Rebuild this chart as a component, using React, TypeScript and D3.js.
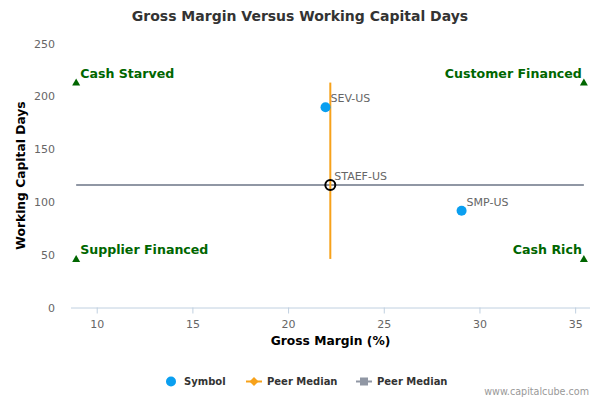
import { scaleLinear } from 'd3';

// scatter points (company symbols)
const symbols = ['SEV-US', 'SMP-US'];
const grossMargin = [21.93, 29.04];
const workingCapitalDays = [189.6, 91.7];

// the company itself, drawn at the peer median crossing
const peerSymbol = 'STAEF-US';
const peerGrossMargin = 22.18;
const peerDays = 116;

// peer median lines
const medianVX = [22.18, 22.18];
const medianVY = [46, 213];
const medianHX = [8.9, 35.43];
const medianHY = [116, 116];

// quadrant corner markers
const quadrantLabels = ['Cash Starved', 'Customer Financed', 'Supplier Financed', 'Cash Rich'];
const quadrantX = [8.9, 35.43, 8.9, 35.43];
const quadrantY = [213, 213, 46, 46];

const xTicks = [10, 15, 20, 25, 30, 35];
const yTicks = [0, 50, 100, 150, 200, 250];

const WIDTH = 600;
const HEIGHT = 400;
const FONT = '"DejaVu Sans", Verdana, sans-serif';

const App = () => {
  const x = scaleLinear().domain([8.63, 35.75]).range([71, 590]);
  const y = scaleLinear().domain([0, 250]).range([307.5, 43.5]);

  const blue = '#0a9ff0';
  const orange = '#f7a21b';
  const grey = '#9097a4';
  const green = '#006600';

  const tri = (cx: number, cy: number) =>
    `M${cx},${cy - 4} L${cx + 4},${cy + 3} L${cx - 4},${cy + 3} Z`;

  return (
    <div style={{ position: 'absolute', left: 0, top: 0 }}>
      <svg width={WIDTH} height={HEIGHT} style={{ display: 'block', background: '#fff', fontFamily: FONT }}>
        <text x={300} y={21} textAnchor="middle" fontSize={14} fontWeight="bold" fill="#333">
          Gross Margin Versus Working Capital Days
        </text>

        {/* y axis labels */}
        {yTicks.map((t) => (
          <text key={t} x={55} y={y(t) + 4} textAnchor="end" fontSize={11} fill="#666">
            {t}
          </text>
        ))}
        <text
          transform={`translate(25,${(y(0) + y(250)) / 2}) rotate(-90)`}
          textAnchor="middle"
          fontSize={12.3}
          fontWeight="bold"
          fill="#000"
        >
          Working Capital Days
        </text>

        {/* x axis */}
        <line x1={71} x2={590} y1={y(0) + 0.5} y2={y(0) + 0.5} stroke="#c0d0e0" />
        {xTicks.map((t) => (
          <g key={t}>
            <line x1={x(t)} x2={x(t)} y1={y(0)} y2={y(0) + 6} stroke="#c0d0e0" />
            <text x={x(t)} y={y(0) + 20} textAnchor="middle" fontSize={11} fill="#666">
              {t}
            </text>
          </g>
        ))}
        <text x={330.5} y={345} textAnchor="middle" fontSize={12.3} fontWeight="bold" fill="#000">
          Gross Margin (%)
        </text>

        {/* quadrant markers */}
        {quadrantLabels.map((q, i) => {
          const px = x(quadrantX[i]);
          const py = y(quadrantY[i]);
          const left = i % 2 === 0;
          return (
            <g key={q}>
              <path d={tri(px, py)} fill={green} />
              <text
                x={left ? px + 4 : px - 2}
                y={py - 5}
                textAnchor={left ? 'start' : 'end'}
                fontSize={12.6}
                fontWeight="bold"
                fill={green}
              >
                {q}
              </text>
            </g>
          );
        })}

        {/* peer median lines */}
        <line
          x1={x(medianHX[0])}
          x2={x(medianHX[1])}
          y1={y(medianHY[0])}
          y2={y(medianHY[1])}
          stroke={grey}
          strokeWidth={2}
        />
        <line
          x1={x(medianVX[0])}
          x2={x(medianVX[1])}
          y1={y(medianVY[0])}
          y2={y(medianVY[1])}
          stroke={orange}
          strokeWidth={2}
        />

        {/* symbols */}
        {symbols.map((s, i) => (
          <g key={s}>
            <circle cx={x(grossMargin[i])} cy={y(workingCapitalDays[i])} r={5} fill={blue} />
            <text
              x={x(grossMargin[i]) + 5}
              y={y(workingCapitalDays[i]) - 5}
              fontSize={11}
              fill="#666"
            >
              {s}
            </text>
          </g>
        ))}
        <circle
          cx={x(peerGrossMargin)}
          cy={y(peerDays)}
          r={5}
          fill="none"
          stroke="#000"
          strokeWidth={2}
        />
        <text x={x(peerGrossMargin) + 4} y={y(peerDays) - 5} fontSize={11} fill="#666">
          {peerSymbol}
        </text>

        {/* legend */}
        <g fontSize={10} fontWeight="bold" fill="#333">
          <circle cx={171} cy={381.5} r={5} fill={blue} />
          <text x={184} y={385}>Symbol</text>
          <line x1={246} x2={262} y1={381.5} y2={381.5} stroke={orange} strokeWidth={2} />
          <path d="M254,377 L258.5,381.5 L254,386 L249.5,381.5 Z" fill={orange} />
          <text x={267} y={385}>Peer Median</text>
          <line x1={356} x2={372} y1={381.5} y2={381.5} stroke={grey} strokeWidth={2} />
          <rect x={360} y={377.5} width={8} height={8} fill={grey} />
          <text x={377} y={385}>Peer Median</text>
        </g>

        <text x={589} y={394.5} textAnchor="end" fontSize={9.6} fill="#999">
          www.capitalcube.com
        </text>
      </svg>
    </div>
  );
};

export default App;
